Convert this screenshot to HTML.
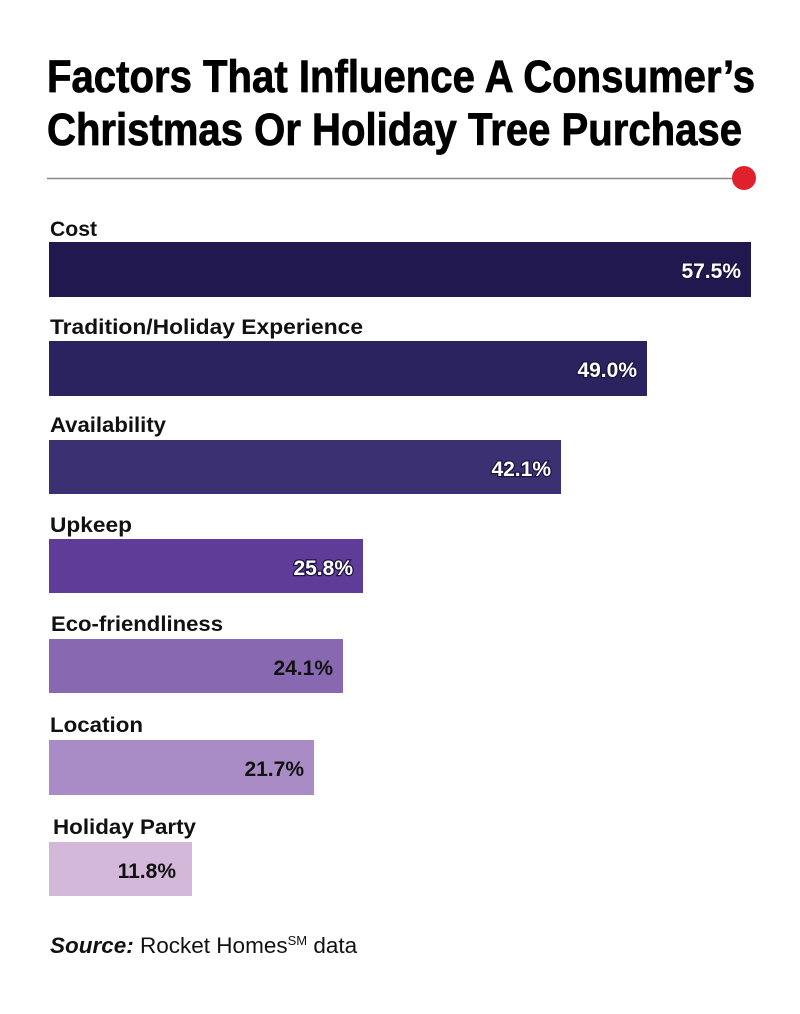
<!DOCTYPE html>
<html><head><meta charset="utf-8"><style>
html,body{margin:0;padding:0;background:#fff;}
svg{display:block;font-family:"Liberation Sans",sans-serif;}
.l{font-size:21px;font-weight:bold;fill:#111;}
.v{font-size:21px;font-weight:bold;text-anchor:end;}
.w{fill:#fff;stroke:#1a1440;stroke-width:2.5px;paint-order:stroke;}
.b{fill:#111;}
</style></head><body>
<svg width="800" height="1014" viewBox="0 0 800 1014">
<text x="47" y="92" font-size="45" font-weight="bold" fill="#000" stroke="#000" stroke-width="0.8" textLength="708" lengthAdjust="spacingAndGlyphs">Factors That Influence A Consumer’s</text>
<text x="47" y="145" font-size="45" font-weight="bold" fill="#000" stroke="#000" stroke-width="0.8" textLength="695" lengthAdjust="spacingAndGlyphs">Christmas Or Holiday Tree Purchase</text>
<line x1="47" y1="178.5" x2="735" y2="178.5" stroke="#888" stroke-width="1.5"/>
<circle cx="744" cy="178" r="12" fill="#e0202a"/>

<text class="l" x="50" y="236" textLength="47" lengthAdjust="spacingAndGlyphs">Cost</text>
<rect x="49" y="242" width="702" height="55" fill="#221850"/>
<text class="v w" x="741" y="278">57.5%</text>

<text class="l" x="50" y="334" textLength="313" lengthAdjust="spacingAndGlyphs">Tradition/Holiday Experience</text>
<rect x="49" y="341" width="598" height="55" fill="#2b2260"/>
<text class="v w" x="637" y="377">49.0%</text>

<text class="l" x="50" y="432" textLength="116" lengthAdjust="spacingAndGlyphs">Availability</text>
<rect x="49" y="440" width="512" height="54" fill="#3b3071"/>
<text class="v w" x="551" y="476">42.1%</text>

<text class="l" x="50" y="532" textLength="82" lengthAdjust="spacingAndGlyphs">Upkeep</text>
<rect x="49" y="539" width="314" height="54" fill="#5f3c97"/>
<text class="v w" x="353" y="575">25.8%</text>

<text class="l" x="51" y="631" textLength="172" lengthAdjust="spacingAndGlyphs">Eco-friendliness</text>
<rect x="49" y="639" width="294" height="54" fill="#8868b0"/>
<text class="v b" x="333" y="675">24.1%</text>

<text class="l" x="50" y="732" textLength="93" lengthAdjust="spacingAndGlyphs">Location</text>
<rect x="49" y="740" width="265" height="55" fill="#a98cc5"/>
<text class="v b" x="304" y="776">21.7%</text>

<text class="l" x="53" y="834" textLength="143" lengthAdjust="spacingAndGlyphs">Holiday Party</text>
<rect x="49" y="842" width="143" height="54" fill="#d4b8da"/>
<text class="v b" x="176" y="878">11.8%</text>

<text x="50" y="953" font-size="22.5" fill="#111"><tspan font-style="italic" font-weight="bold">Source:</tspan> Rocket Homes<tspan font-size="13" dy="-8">SM</tspan><tspan dy="8"> data</tspan></text>
</svg>
</body></html>
